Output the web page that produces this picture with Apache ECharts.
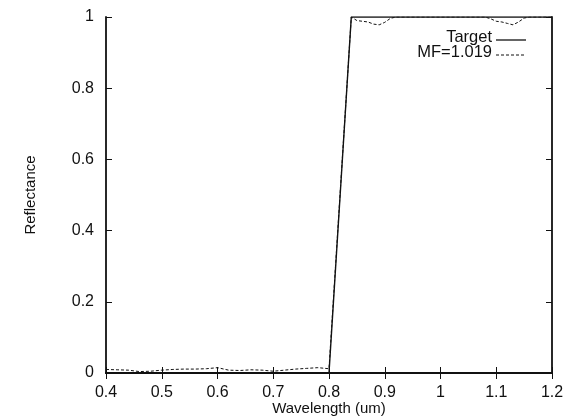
<!DOCTYPE html>
<html>
<head>
<meta charset="utf-8">
<script src="https://cdn.jsdelivr.net/npm/echarts@6/dist/echarts.min.js"></script>
<style>
  html, body { margin: 0; padding: 0; background: #fff; }
  #chart { width: 567px; height: 418px; }
</style>
</head>
<body>
<div id="chart"></div>
<script>
// Target reflectance: ideal edge filter
const targetWavelength = [0.4, 0.8, 0.84, 1.2];
const targetReflectance = [0, 0, 1, 1];

// Designed stack (merit function 1.019)
const mfWavelength = [
  0.40, 0.42, 0.44, 0.46, 0.48, 0.50, 0.52, 0.54, 0.56, 0.58,
  0.60, 0.62, 0.64, 0.66, 0.68, 0.70, 0.72, 0.74, 0.76, 0.78,
  0.80, 0.84, 0.85, 0.86, 0.87, 0.88, 0.89, 0.90, 0.91, 0.92,
  0.96, 1.00, 1.04, 1.08, 1.09, 1.10, 1.11, 1.12, 1.13, 1.14,
  1.15, 1.16, 1.20
];
const mfReflectance = [
  0.010, 0.009, 0.008, 0.004, 0.005, 0.008, 0.010, 0.011, 0.011, 0.012,
  0.015, 0.008, 0.007, 0.009, 0.008, 0.005, 0.008, 0.011, 0.013, 0.015,
  0.012, 1.000, 0.990, 0.988, 0.986, 0.980, 0.978, 0.985, 0.996, 1.000,
  1.000, 1.000, 1.000, 1.000, 0.995, 0.988, 0.986, 0.982, 0.978, 0.986,
  0.997, 1.000, 1.000
];

// Axis tick values
const xTicks = [0.4, 0.5, 0.6, 0.7, 0.8, 0.9, 1.0, 1.1, 1.2];
const yTicks = [0, 0.2, 0.4, 0.6, 0.8, 1];

// Legend entries
const legendNames = ['Target', 'MF=1.019'];

const pair = (xs, ys) => xs.map((x, i) => [x, ys[i]]);
const fmt = v => String(+(+v).toFixed(1));

const font = 'Liberation Sans, Arial, Helvetica, sans-serif';
const ink = '#111';

const axisCommon = {
  axisLine: { show: true, lineStyle: { color: ink, width: 1.8 } },
  axisTick: { show: true, inside: true, length: 6, lineStyle: { color: ink, width: 1 } },
  splitLine: { show: false }
};

// Legend drawn as text + line sample, text right-aligned to the left of the sample
function legendItem(label, y, dash) {
  return [
    {
      type: 'text', right: 567 - 492, top: y - 10,
      style: { text: label, fill: ink, font: '16.5px ' + font, textAlign: 'right' }
    },
    {
      type: 'line', shape: { x1: 496, y1: y + 1, x2: 526, y2: y + 1 },
      style: { stroke: ink, lineWidth: dash ? 1 : 1.3, lineDash: dash || null }
    }
  ];
}

const chart = echarts.init(document.getElementById('chart'), null, { renderer: 'canvas' });
chart.setOption({
  animation: false,
  backgroundColor: '#fff',
  grid: { left: 106, right: 15, top: 17, bottom: 45, containLabel: false, outerBoundsMode: 'none' },
  graphic: [].concat(
    legendItem(legendNames[0], 39, null),
    legendItem(legendNames[1], 54, [3, 2])
  ),
  xAxis: [
    Object.assign({
      type: 'value', min: xTicks[0], max: xTicks[xTicks.length - 1], interval: 0.1,
      position: 'bottom',
      name: 'Wavelength (um)', nameLocation: 'middle', nameGap: 28, nameMoveOverlap: false,
      nameTextStyle: { fontFamily: font, fontSize: 15, color: ink },
      axisLabel: { fontFamily: font, fontSize: 16, color: ink, margin: 12, formatter: fmt }
    }, axisCommon),
    Object.assign({
      type: 'value', min: xTicks[0], max: xTicks[xTicks.length - 1], interval: 0.1,
      position: 'top', axisLabel: { show: false }
    }, axisCommon)
  ],
  yAxis: [
    Object.assign({
      type: 'value', min: yTicks[0], max: yTicks[yTicks.length - 1], interval: 0.2,
      position: 'left',
      name: 'Reflectance', nameLocation: 'middle', nameGap: 68, nameRotate: 90, nameMoveOverlap: false,
      nameTextStyle: { fontFamily: font, fontSize: 15, color: ink },
      axisLabel: { fontFamily: font, fontSize: 16, color: ink, margin: 12, formatter: fmt }
    }, axisCommon),
    Object.assign({
      type: 'value', min: yTicks[0], max: yTicks[yTicks.length - 1], interval: 0.2,
      position: 'right', axisLabel: { show: false }
    }, axisCommon)
  ],
  series: [
    {
      name: legendNames[0], type: 'line', xAxisIndex: 0, yAxisIndex: 0,
      data: pair(targetWavelength, targetReflectance),
      showSymbol: false, symbol: 'none',
      lineStyle: { color: ink, width: 1.4, type: 'solid' },
      clip: true, z: 3
    },
    {
      name: legendNames[1], type: 'line', xAxisIndex: 0, yAxisIndex: 0,
      data: pair(mfWavelength, mfReflectance),
      showSymbol: false, symbol: 'none',
      lineStyle: { color: ink, width: 1, type: [3, 2] },
      clip: true, z: 2
    }
  ]
});
</script>
</body>
</html>
